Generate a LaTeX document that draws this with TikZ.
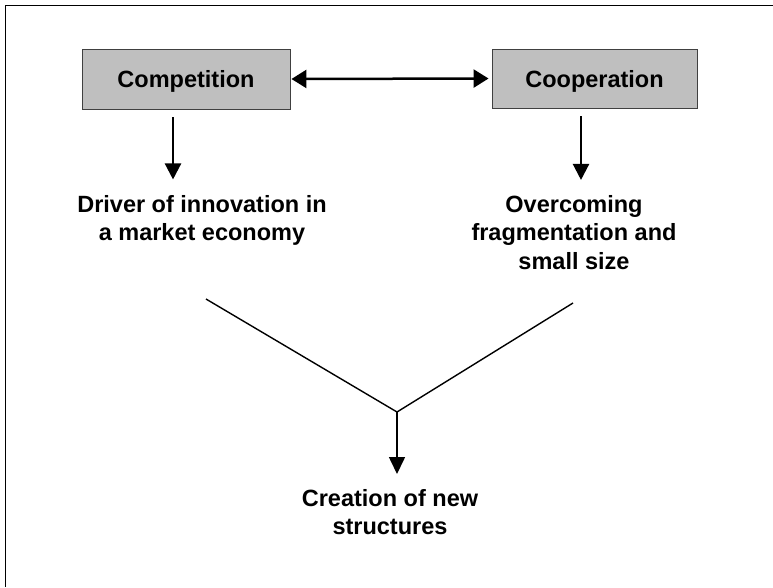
\documentclass[tikz,border=0pt]{standalone}
\usepackage{fontspec}
\setmainfont{Liberation Sans}
\usetikzlibrary{arrows.meta}
\tikzset{
  frameline/.style={line width=1.5pt},
  graybox/.style={draw=black!75, line width=0.9pt, fill=black!25, inner sep=0pt,
    font=\fontsize{23.5}{28.5}\selectfont\bfseries, text height=17pt, text depth=0pt},
  label/.style={inner sep=0pt, align=center, anchor=north,
    font=\fontsize{23.5}{28.5}\selectfont\bfseries},
  boldarrow/.style={line width=2.3pt, -{Triangle[length=16pt,width=16pt]}},
  dblarrow/.style={line width=2.5pt, {Triangle[length=15pt,width=18pt]}-{Triangle[length=15pt,width=18pt]}},
  thinline/.style={line width=1.4pt},
  thinarrow/.style={line width=1.6pt, -{Triangle[length=17pt,width=16pt]}}
}
\begin{document}
\begin{tikzpicture}[x=1pt,y=-1pt]
\useasboundingbox (0,0) rectangle (773,587);
\draw[frameline] (773,5.5) -- (5.5,5.5) -- (5.5,587);

\node[graybox, minimum width=208pt, minimum height=60pt] (comp) at (186,79) {Competition};
\node[graybox, minimum width=205pt, minimum height=59pt] (coop) at (594.5,78.5) {Cooperation};

\draw[dblarrow, shorten <=1pt, shorten >=3pt] (comp.east) -- (coop.west);

\node[label] (drv) at (202,195) {Driver of innovation in\\a market economy};
\node[label] (ovc) at (574,195) {Overcoming\\fragmentation and\\small size};
\node[label] (cre) at (390,489) {Creation of new\\structures};

\draw[boldarrow] ([xshift=-13pt,yshift=-8pt]comp.south) -- ([xshift=-13pt,yshift=-70pt]comp.south);
\draw[boldarrow] ([xshift=-13.5pt,yshift=-8pt]coop.south) -- ([xshift=-13.5pt,yshift=-71.5pt]coop.south);

\coordinate (vl) at (206,299);
\coordinate (v) at (397,412);
\coordinate (vr) at (573,303);
\coordinate (vt) at (397,474);
\draw[thinline] (vl) -- (v) -- (vr);
\draw[thinarrow] (v) -- (vt);
\end{tikzpicture}
\end{document}
